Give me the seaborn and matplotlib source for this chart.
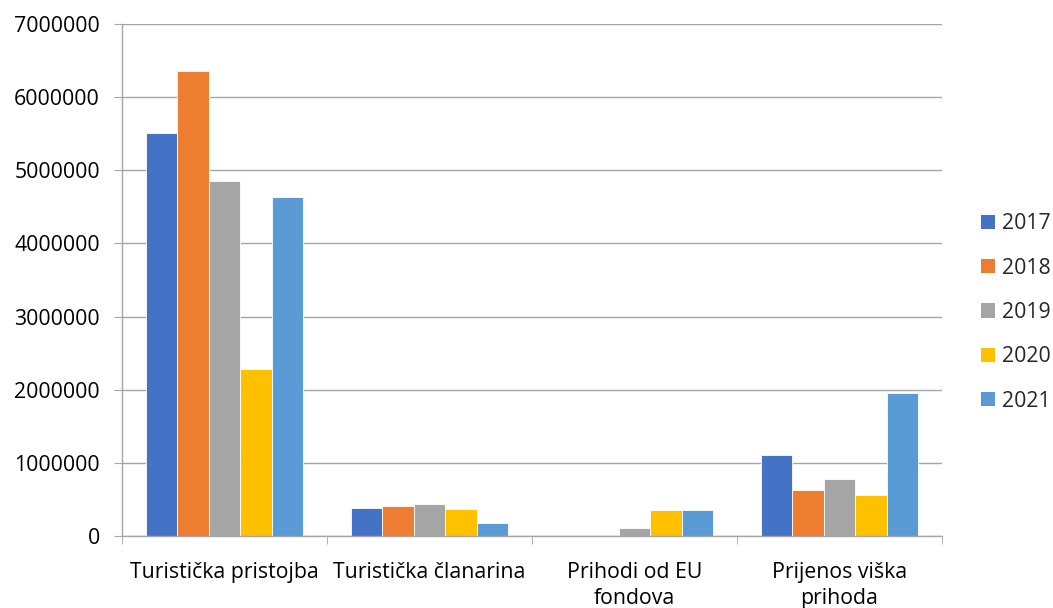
import matplotlib
matplotlib.use("Agg")
import matplotlib.pyplot as plt
import seaborn as sns
import pandas as pd
from matplotlib.ticker import FixedLocator, MultipleLocator
from matplotlib.patches import Patch

categories = ["Turistička pristojba", "Turistička članarina", "Prihodi od EU\nfondova", "Prijenos viška\nprihoda"]
years = ["2017", "2018", "2019", "2020", "2021"]
v2017 = [5510000, 385000, 0, 1105000]
v2018 = [6360000, 413000, 0, 624000]
v2019 = [4850000, 431000, 105000, 784000]
v2020 = [2280000, 372000, 358000, 555000]
v2021 = [4630000, 179000, 362000, 1950000]
colors = ["#4472C4", "#ED7D31", "#A5A5A5", "#FFC000", "#5B9BD5"]

series = [v2017, v2018, v2019, v2020, v2021]
rows = []
for y, vals in zip(years, series):
    for c, v in zip(categories, vals):
        rows.append({"cat": c, "year": y, "value": v})
df = pd.DataFrame(rows)

sns.set_style("white")
plt.rcParams["font.family"] = ["Open Sans", "DejaVu Sans"]
FS = 15.3

fig = plt.figure(figsize=(10.53, 6.08), dpi=100)
ax = fig.add_axes([0.1159, 0.1184, 0.7787, 0.8421])
sns.barplot(data=df, x="cat", y="value", hue="year", order=categories, hue_order=years,
            palette=colors, saturation=1, width=0.766, edgecolor="white", linewidth=0.6,
            ax=ax, legend=False, errorbar=None)

ax.set_ylim(0, 7000000)
ax.set_xlim(-0.5, 3.5)
ax.yaxis.set_major_locator(MultipleLocator(1000000))
ax.yaxis.set_major_formatter(matplotlib.ticker.FuncFormatter(lambda v, p: f"{int(v)}"))
ax.grid(axis="y", color="#A6A6A6", linewidth=1.0)
ax.set_axisbelow(True)
ax.set_xlabel("")
ax.set_ylabel("")
for s in ["top", "right"]:
    ax.spines[s].set_visible(False)
ax.spines["left"].set_color("#A6A6A6")
ax.spines["bottom"].set_color("#A6A6A6")
ax.spines["left"].set_linewidth(1.0)
ax.spines["bottom"].set_linewidth(1.0)

ax.tick_params(axis="y", which="major", left=True, length=6, color="#A6A6A6", labelsize=FS, pad=10, labelcolor="#000000")
ax.tick_params(axis="x", which="major", length=0, labelsize=FS, pad=19, labelcolor="#000000")
for lbl in ax.get_xticklabels():
    lbl.set_linespacing(1.3)
ax.xaxis.set_minor_locator(FixedLocator([-0.5, 0.5, 1.5, 2.5, 3.5]))
ax.tick_params(axis="x", which="minor", bottom=True, length=6, color="#A6A6A6")

handles = [Patch(facecolor=c, edgecolor="none") for c in colors]
fig.legend(handles, years, loc="center left", bbox_to_anchor=(0.932, 0.486), frameon=False,
           fontsize=FS, handlelength=0.65, handleheight=0.65, handletextpad=0.3, labelspacing=1.1,
           borderpad=0, borderaxespad=0)

fig.savefig("out.png", dpi=100)
